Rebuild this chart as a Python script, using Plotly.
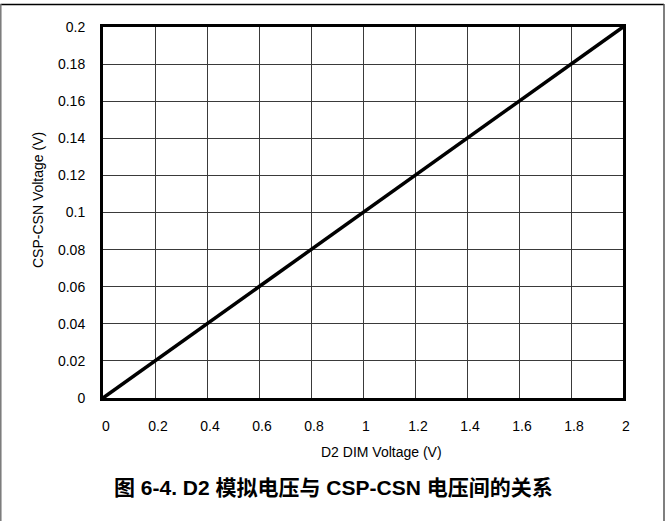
import plotly.graph_objects as go

# Data
dim_voltage = [0, 2]
csp_csn_voltage = [0, 0.2]
x_ticks = [0, 0.2, 0.4, 0.6, 0.8, 1, 1.2, 1.4, 1.6, 1.8, 2]
x_tick_labels = ["0", "0.2", "0.4", "0.6", "0.8", "1", "1.2", "1.4", "1.6", "1.8", "2"]
y_ticks = [0, 0.02, 0.04, 0.06, 0.08, 0.1, 0.12, 0.14, 0.16, 0.18, 0.2]
y_tick_labels = ["0", "0.02", "0.04", "0.06", "0.08", "0.1", "0.12", "0.14", "0.16", "0.18", "0.2"]

W, H = 666, 521
L, R, T, B = 103, 43, 27, 123
PW, PH = W - L - R, H - T - B

def px(x):
    return (x - L) / PW

def py(y):
    return (H - B - y) / PH

font = "Arial, Liberation Sans, sans-serif"

fig = go.Figure()
fig.add_trace(go.Scatter(x=dim_voltage, y=csp_csn_voltage, mode="lines",
                         line=dict(color="black", width=3.5), showlegend=False,
                         cliponaxis=False, hoverinfo="skip"))

axis_common = dict(showgrid=True, gridcolor="#3a3a3a", gridwidth=1,
                   showline=True, linecolor="black", linewidth=3, mirror=True,
                   ticks="", zeroline=False, tickfont=dict(family=font, size=14, color="black"))

fig.update_xaxes(range=[0, 2], tickvals=x_ticks, ticktext=x_tick_labels,
                 ticklabelstandoff=13, ticklabelshift=3, **axis_common)
fig.update_yaxes(range=[0, 0.2], tickvals=y_ticks, ticktext=y_tick_labels,
                 ticklabelstandoff=12, **axis_common)

fig.add_annotation(x=px(381), y=py(452), xref="paper", yref="paper",
                   xanchor="center", yanchor="middle",
                   text="D2 DIM Voltage (V)", showarrow=False,
                   font=dict(family=font, size=14, color="black"))
fig.add_annotation(x=px(38), y=py(200), xref="paper", yref="paper",
                   xanchor="center", yanchor="middle",
                   text="CSP-CSN Voltage (V)", showarrow=False, textangle=-90,
                   font=dict(family=font, size=14, color="black"))
fig.add_annotation(x=px(333), y=py(487), xref="paper", yref="paper",
                   xanchor="center", yanchor="middle",
                   text="<b>图 6-4. D2 模拟电压与 CSP-CSN 电压间的关系</b>", showarrow=False,
                   font=dict(family="Arial, Liberation Sans, Noto Sans CJK SC", size=21, color="black"))

# outer frame
fig.add_shape(type="line", xref="paper", yref="paper", x0=px(0.5), x1=px(664), y0=py(4.5), y1=py(4.5),
              line=dict(color="black", width=1.5))
fig.add_shape(type="line", xref="paper", yref="paper", x0=px(0.8), x1=px(0.8), y0=py(4), y1=py(521),
              line=dict(color="#777777", width=1.5))
fig.add_shape(type="line", xref="paper", yref="paper", x0=px(664), x1=px(664), y0=py(4), y1=py(521),
              line=dict(color="#555555", width=1.5))

fig.update_layout(width=W, height=H, margin=dict(l=L, r=R, t=T, b=B),
                  plot_bgcolor="white", paper_bgcolor="white", hovermode=False)

fig.write_html("out.html", config={"displayModeBar": False, "staticPlot": True},
               post_script="document.body.style.margin='0';document.body.style.padding='0';document.body.style.overflow='hidden';")
